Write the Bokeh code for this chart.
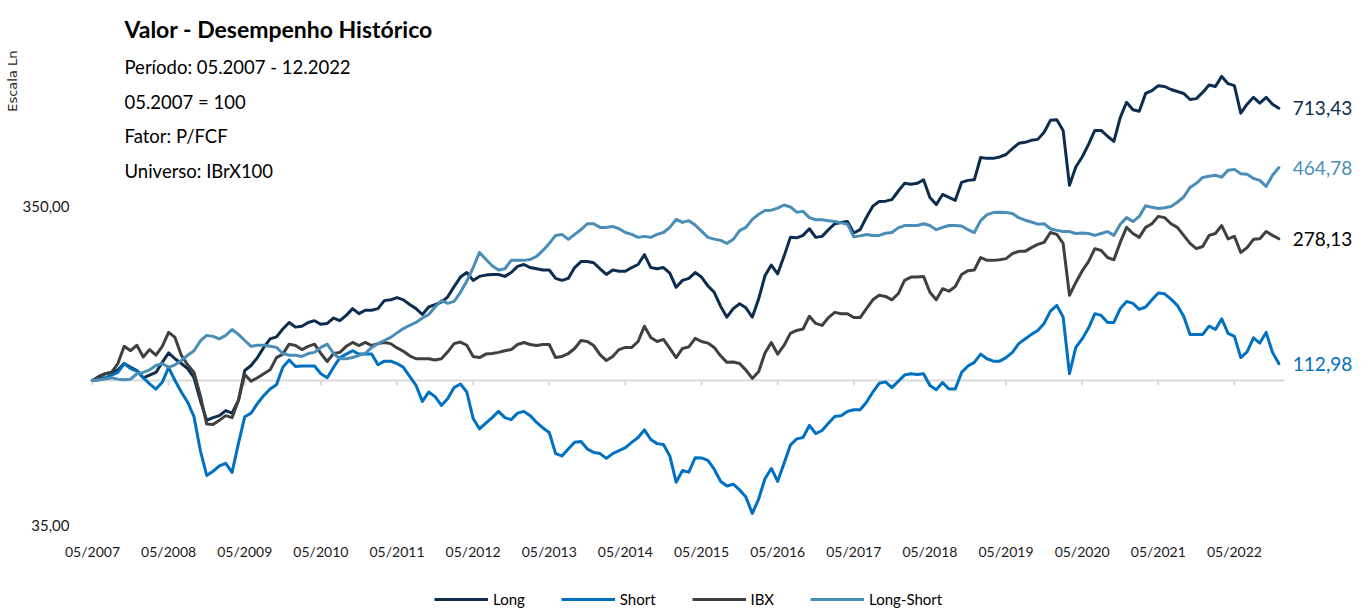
import math
from bokeh.plotting import figure
from bokeh.layouts import column
from bokeh.models import FixedTicker, Label, Legend, LegendItem, ColumnDataSource, Title
from bokeh.core.properties import value
from bokeh.embed import file_html
from bokeh.resources import INLINE

# ---------------- data ----------------
months = list(range(188))  # 05/2007 .. 12/2022, month index
tick_months = list(range(0, 181, 12))
tick_labels = [f"05/{2007 + i}" for i in range(len(tick_months))]
y_ticks = [35, 350]
y_tick_labels = ["35,00", "350,00"]
base_value = 100

long_vals = [
    100, 103, 105, 106, 108, 113, 110, 107.5, 102, 104, 106, 114, 122, 117, 113, 109, 102, 86.6, 75, 76.5,
    77.6, 80.5, 79, 86.6, 107.5, 111.4, 118, 127, 135, 137, 145, 152, 147, 148, 152, 154, 150, 151, 157, 154,
    160, 168, 162, 166, 166, 168, 178, 179, 182, 179, 173, 168, 161, 170, 173, 176, 183, 197, 211, 218,
    206, 212, 214, 215, 215, 212, 218, 228, 231, 226, 224, 222, 222, 209, 206, 209, 226, 236, 236, 234,
    224, 215, 222, 220, 220, 226, 231, 248, 226, 224, 226, 217, 196, 206, 209, 218, 211, 198, 189, 171,
    158, 168, 174, 169, 158, 180, 213, 230, 216, 245, 281, 280, 285, 299, 281, 283, 297, 310, 313, 315,
    290, 297, 325, 352, 364, 365, 369, 392, 415, 412, 415, 426, 375, 356, 383, 375, 367, 418, 424, 426,
    500, 497, 497, 502, 511, 533, 554, 558, 566, 570, 600, 654, 657, 608, 409, 467, 502, 550, 608, 608,
    583, 562, 667, 745, 706, 698, 794, 810, 840, 835, 817, 805, 794, 760, 765, 800, 844, 835, 898, 852,
    840, 689, 735, 772, 740, 772, 735, 713.43,
]
short_vals = [
    100, 100.5, 102, 104, 106, 113, 109, 107, 102, 97.6, 94, 98.7, 110, 100, 92, 85.5, 77, 60.3, 50.4, 51.9,
    54, 55, 51.5, 63.4, 77, 79, 84.7, 89.7, 94, 97, 110, 116, 110.6, 111, 111, 111, 105, 102, 110, 118,
    121, 124, 121, 121, 121, 112, 115, 115, 113, 110, 103, 96.5, 86, 92, 89, 83.5, 87.8, 95, 97.5, 92,
    76, 70.5, 73.5, 76.5, 80, 76.5, 75.4, 79, 80, 77.6, 73.9, 71, 68.7, 59, 58, 61, 64, 64.4, 61, 59.5,
    59, 57, 59, 60.3, 61.6, 64, 66.3, 70, 65.3, 63.4, 63, 58, 48, 52.2, 51.6, 57.3, 57.2, 56.2, 52.7, 48.3,
    46.7, 47.3, 45.4, 43.1, 38.3, 42.5, 49.2, 53, 48.3, 54.9, 62.7, 65.6, 66.3, 72.3, 68.2, 69.7, 73.4, 77.1, 77.6, 80,
    81, 81, 85.5, 92, 98, 99, 95, 99.4, 104, 105, 104.5, 105, 96.5, 93.6, 98.5, 94, 94, 106, 111, 114,
    121, 117, 115, 115, 118, 122.5, 130.5, 135, 139.5, 143.5, 151, 165, 172, 158, 105, 127, 135, 146, 162, 160,
    152, 152, 168, 177, 174.5, 167, 170, 179, 188, 187, 180, 172, 159, 139.5, 139.5, 139.5, 148, 144.5, 156, 140.5,
    137.5, 118, 123, 136, 131, 141.5, 122.5, 112.98,
]
ibx_vals = [
    100, 102, 105, 106, 113, 128, 124, 129, 118.5, 125, 120, 128, 141.5, 136.5, 120, 112, 106, 89.7, 73, 72.8,
    75, 77.6, 76.5, 86.6, 104.5, 99.5, 102, 105, 108, 118, 121, 130, 128.7, 125, 128, 130, 121.5, 114.7, 121.5, 122.5,
    128, 131.6, 128.7, 131.6, 128.7, 130.5, 131.5, 130.5, 126.5, 123.5, 119.5, 117, 117, 117, 116, 117, 123, 130.5, 132, 129,
    119, 118, 121, 121.5, 122.5, 124, 125, 129.7, 131.6, 129.7, 128.7, 129.7, 129.7, 118, 119, 121.5, 126, 133.5, 132.5, 128.7,
    120.6, 115.5, 119, 125, 127, 127, 132.5, 148, 136.5, 132.5, 134.5, 126, 118, 126, 127.5, 135.5, 132.5, 131, 127, 119.5,
    114, 114.3, 113, 107.8, 101.5, 106.5, 122, 131.5, 121, 128.8, 140.5, 143.5, 145, 159, 151, 148.8, 157.5, 163.5, 162, 162,
    157.5, 157.5, 168, 179, 185, 183.5, 179, 187, 206, 211, 211, 212, 189, 179, 194, 190.5, 197, 215, 221, 222,
    243, 238, 238, 239, 241, 250, 254, 254, 261, 267, 271, 291, 287, 269, 185, 203, 220.5, 236, 259, 255.7,
    243, 239, 271, 302, 289, 281, 302, 310, 327, 324, 310, 302, 285, 269, 259, 263, 285, 289, 306, 278,
    283, 252, 261, 277, 278, 293, 285, 278.13,
]
long_short_vals = [
    100, 100.5, 101, 102, 101, 100.5, 101, 105, 106, 108, 111.4, 113, 110, 112, 115.5, 120, 124, 133, 138.5, 137.5,
    135, 138.5, 144.5, 139.5, 133.5, 128, 129, 129, 128, 127, 121.5, 120, 120, 119, 121.5, 122.5, 127, 130, 121.5, 117,
    117, 118, 120, 121.5, 127, 130.5, 133.5, 136.5, 141, 145.5, 149, 152, 157, 161, 170, 178, 174.5, 177, 189, 205,
    226, 252, 240, 229, 222, 224, 238, 238, 238, 239.5, 245, 255.7, 269, 285, 287, 277, 287, 297, 310, 310,
    302, 302, 304, 299, 291, 287, 281, 283, 281, 287, 291, 302, 320, 313, 317, 307, 294, 281, 277.5, 275,
    269, 277, 295, 302, 320, 332, 341, 342, 347, 355, 350, 337, 339, 324, 319, 319, 317, 315, 312, 309,
    282, 284, 287, 285, 285, 289.5, 291, 301, 306, 306, 306, 310, 306, 297, 302, 306, 306, 305, 297, 291,
    317, 331, 336, 337, 336, 334, 324, 318, 314, 309, 310, 299, 295.5, 293, 293, 289, 290, 289, 285, 289,
    293, 285, 309, 324, 315, 327, 353, 349, 346, 348, 351, 362, 376, 403, 415, 433, 437, 440, 434, 456,
    459, 445, 443, 430, 424, 406, 440, 464.78,
]

series_names = ["Long", "Short", "IBX", "Long-Short"]
series_vals = [long_vals, short_vals, ibx_vals, long_short_vals]
series_colors = ["#0c2d4e", "#0070c0", "#404040", "#4a8db7"]
label_colors = ["#0c2d4e", "#0070c0", "#000000", "#4a8db7"]

# ---------------- layout ----------------
W = 1365
H_MAIN, H_LEG = 575, 33                   # main chart + legend strip = 608
FL, FR, FT, FB = 80, 1365, 0, 530        # frame edges (px)
X0_PX, PX_MONTH = 92, 6.344               # first month position, px per month
BASE_PX, PX_DECADE = 380, 319             # y position of 100, px per decade
YLAB_RIGHT = 69                           # right edge of y tick labels

x_start = -(X0_PX - FL) / PX_MONTH
x_end = x_start + (FR - FL) / PX_MONTH
y_start = base_value / 10 ** ((FB - BASE_PX) / PX_DECADE)
y_end = base_value * 10 ** ((BASE_PX - FT) / PX_DECADE)

FONT = "Lato"

p = figure(width=W, height=H_MAIN, x_range=(x_start, x_end), y_range=(y_start, y_end),
           y_axis_type="log", output_backend="svg", toolbar_location=None,
           min_border_left=FL, min_border_right=W - FR, min_border_top=FT,
           min_border_bottom=H_MAIN - FB)
p.outline_line_color = None
p.xgrid.visible = False
p.ygrid.visible = False
p.background_fill_color = "white"
p.border_fill_color = "white"

# x axis (labels only)
p.xaxis.ticker = FixedTicker(ticks=tick_months, minor_ticks=[])
p.xaxis.major_label_overrides = dict(zip(tick_months, tick_labels))
p.xaxis.axis_line_color = None
p.xaxis.major_tick_line_color = None
p.xaxis.minor_tick_line_color = None
p.xaxis.major_tick_out = 0
p.xaxis.major_label_standoff = 12
p.xaxis.major_label_text_font = FONT
p.xaxis.major_label_text_font_size = "14px"
p.xaxis.major_label_text_color = "#1a1a1a"

# y axis
p.yaxis.ticker = FixedTicker(ticks=y_ticks, minor_ticks=[])
p.yaxis.major_label_overrides = dict(zip(y_ticks, y_tick_labels))
p.yaxis.axis_line_color = None
p.yaxis.major_tick_line_color = None
p.yaxis.minor_tick_line_color = None
p.yaxis.major_tick_out = 0
p.yaxis.major_label_standoff = FL - YLAB_RIGHT
p.yaxis.major_label_text_font = FONT
p.yaxis.major_label_text_font_size = "15px"
p.yaxis.major_label_text_color = "#1a1a1a"

# vertical scale note on the left side (top aligned)
p.add_layout(Title(text="Escala Ln", align="right", offset=50, standoff=0,
                   text_font="DejaVu Sans", text_font_size="13px", text_font_style="normal",
                   text_color="#262626"), "left")

# category axis line crossing at 100, with tick marks
tick_bottom = base_value / 10 ** (5 / PX_DECADE)
p.segment(x0=[months[0] - 0.5], y0=[base_value], x1=[months[-1] + 0.8], y1=[base_value],
          line_color="#d9d9d9", line_width=2)
p.segment(x0=tick_months, y0=[base_value] * len(tick_months), x1=tick_months,
          y1=[tick_bottom] * len(tick_months), line_color="#d9d9d9", line_width=2)

for name, vals, col in zip(series_names, series_vals, series_colors):
    p.line(months, vals, line_color=col, line_width=3, line_join="round", line_cap="round")

# end labels
end_src = ColumnDataSource(dict(
    x=[months[-1]] * 4,
    y=[v[-1] for v in series_vals],
    text=[f"{v[-1]:.2f}".replace(".", ",") for v in series_vals],
    color=label_colors,
))
p.text(x="x", y="y", text="text", source=end_src, text_color="color", x_offset=14,
       text_align="left", text_baseline="middle", text_font=value(FONT),
       text_font_size=value("19px"))

# titles (screen coords relative to frame bottom-left)
def lab(text, cx, cy, size, bold=False, **kw):
    p.add_layout(Label(x=cx - FL, y=FB - cy, x_units="screen", y_units="screen", text=text,
                       text_font=FONT, text_font_size=size, text_color="#000000",
                       text_font_style="bold" if bold else "normal",
                       text_baseline="middle", **kw))

lab("Valor - Desempenho Histórico", 124, 28, "23px", bold=True)
lab("Período: 05.2007 - 12.2022", 124, 66, "18.5px")
lab("05.2007 = 100", 124, 101, "18.5px")
lab("Fator: P/FCF", 124, 135, "18.5px")
lab("Universo: IBrX100", 124, 170, "18.5px")

# ---------------- legend strip ----------------
pl = figure(width=W, height=H_LEG, x_range=(x_start, x_end), y_range=(0, 1), output_backend="svg",
            toolbar_location=None, x_axis_location=None, y_axis_location=None,
            min_border_left=FL, min_border_right=W - FR, min_border_top=0,
            min_border_bottom=0)
pl.outline_line_color = None
pl.xgrid.visible = False
pl.ygrid.visible = False
# legend keys: the same series, lying outside this strip's visible y range
proxies = [pl.line(months, vals, line_color=col, line_width=3)
           for vals, col in zip(series_vals, series_colors)]
legend = Legend(items=[LegendItem(label=n, renderers=[r]) for n, r in zip(series_names, proxies)],
                orientation="horizontal", location=(434 - FL, 0),
                glyph_width=54, glyph_height=16, label_height=16, label_standoff=5, spacing=36,
                padding=0, margin=0, border_line_color=None, background_fill_alpha=0,
                label_text_font=FONT, label_text_font_size="15px", label_text_color="#000000")
pl.add_layout(legend)

layout = column(p, pl, spacing=0)
open("out.html", "w").write(file_html(layout, INLINE))
